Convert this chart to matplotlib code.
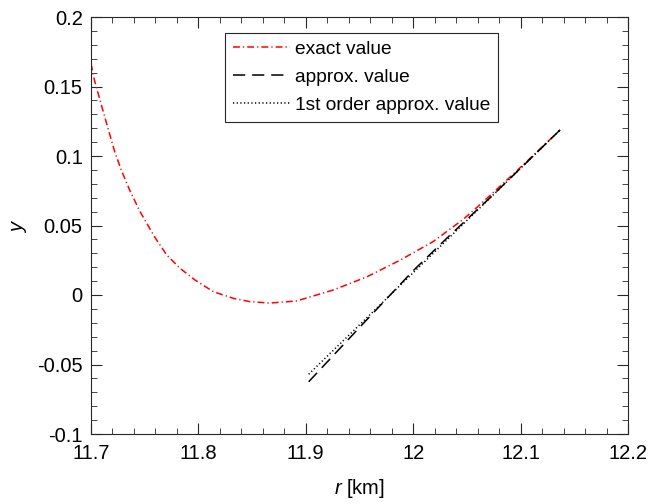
import matplotlib
matplotlib.use("Agg")
import matplotlib.pyplot as plt
from matplotlib.ticker import MultipleLocator, FuncFormatter

plt.rcParams['font.family'] = ['Liberation Sans', 'DejaVu Sans']
plt.rcParams['mathtext.fontset'] = 'custom'
plt.rcParams['mathtext.rm'] = 'Liberation Sans'
plt.rcParams['mathtext.it'] = 'Liberation Sans:italic'
plt.rcParams['axes.unicode_minus'] = False

# values
r_exact = [11.7000, 11.7034, 11.7081, 11.7112, 11.7158, 11.7221, 11.7282, 11.7360,
           11.7453, 11.7519, 11.7596, 11.7705, 11.7829, 11.7968, 11.8139, 11.8325,
           11.8480, 11.8667, 11.8915, 11.9256, 11.9567, 11.9877, 12.0187, 12.0467,
           12.0622, 12.0746, 12.0932, 12.1180, 12.1367]
y_exact = [0.1665, 0.1540, 0.1410, 0.1325, 0.1199, 0.1031, 0.0899, 0.0755,
           0.0605, 0.0516, 0.0413, 0.0288, 0.0192, 0.0108, 0.0024, -0.0024,
           -0.0048, -0.0058, -0.0043, 0.0036, 0.0130, 0.0250, 0.0385, 0.0545,
           0.0650, 0.0738, 0.0870, 0.1050, 0.1187]

r_approx = [11.9027, 11.9536, 12.0000, 12.0312, 12.0746, 12.1367]
y_approx = [-0.0624, -0.0204, 0.0175, 0.0408, 0.0722, 0.1187]

r_first = [11.9027, 12.1367]
y_first = [-0.0570, 0.1187]

fig = plt.figure(figsize=(6.52, 5.04), dpi=100)
ax = fig.add_axes([91 / 652, 1 - 434 / 504, 537 / 652, 417 / 504])

ax.plot(r_exact, y_exact, color='red', linestyle=(0, (4.5, 2, 0.8, 2)), lw=1.1,
        label='exact value')
ax.plot(r_approx, y_approx, color='black', linestyle=(0, (8, 4.5)), lw=1.1,
        label='approx. value')
ax.plot(r_first, y_first, color='black', linestyle=(0, (0.8, 1.6)), lw=1.1,
        label='1st order approx. value')

ax.set_xlim(11.7, 12.2)
ax.set_ylim(-0.1, 0.2)
ax.xaxis.set_major_locator(MultipleLocator(0.1))
ax.xaxis.set_minor_locator(MultipleLocator(0.02))
ax.yaxis.set_major_locator(MultipleLocator(0.05))
ax.yaxis.set_minor_locator(MultipleLocator(0.01))
fmt = FuncFormatter(lambda v, p: '%g' % round(v, 4))
ax.xaxis.set_major_formatter(fmt)
ax.yaxis.set_major_formatter(fmt)

ax.tick_params(which='both', direction='in', top=True, right=True,
               color='#262626', labelsize=14.5, labelcolor='black')
ax.tick_params(which='major', length=8, width=0.8)
ax.tick_params(which='minor', length=4, width=0.6)
ax.tick_params(axis='x', which='major', pad=7)
ax.tick_params(axis='y', which='major', pad=6)
for s in ax.spines.values():
    s.set_color('#262626')
    s.set_linewidth(0.8)

ax.set_xlabel(r'$r$ [km]', fontsize=14.5, labelpad=10)
ax.set_ylabel(r'$y$', fontsize=14.5, labelpad=6)

leg = ax.legend(loc='upper center', bbox_to_anchor=(0.504, 0.962), fontsize=13.8,
                frameon=True, fancybox=False, edgecolor='#262626', framealpha=1,
                handlelength=3.0, handletextpad=0.25, borderpad=0.4, labelspacing=0.55,
                borderaxespad=0)
leg.get_frame().set_linewidth(0.8)

fig.savefig('out.png', dpi=100)
